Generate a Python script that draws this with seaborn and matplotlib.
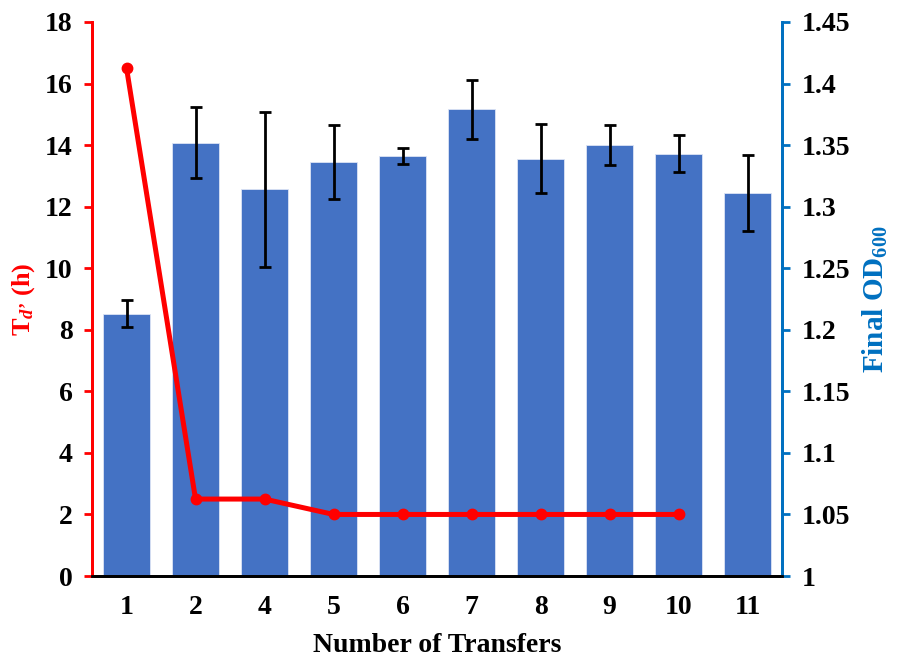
import matplotlib
matplotlib.use("Agg")
import matplotlib.pyplot as plt
import pandas as pd
import seaborn as sns

transfers = ["1", "2", "4", "5", "6", "7", "8", "9", "10", "11"]
final_od = [1.213, 1.352, 1.314, 1.336, 1.341, 1.379, 1.339, 1.350, 1.343, 1.311]
od_err = [0.011, 0.029, 0.063, 0.030, 0.0065, 0.024, 0.028, 0.0165, 0.015, 0.031]
td_transfers = ["1", "2", "4", "5", "6", "7", "8", "9", "10"]
td_hours = [16.5, 2.5, 2.5, 2.0, 2.0, 2.0, 2.0, 2.0, 2.0]

red = "#FF0000"
blue = "#0070C0"
bar_color = "#4472C4"

sns.set_style("white")
plt.rcParams["font.family"] = ["Liberation Serif", "DejaVu Serif"]
plt.rcParams["font.weight"] = "bold"
plt.rcParams["text.color"] = "black"
plt.rcParams["axes.labelcolor"] = "black"
plt.rcParams["xtick.color"] = "black"
plt.rcParams["ytick.color"] = "black"
plt.rcParams["mathtext.fontset"] = "custom"
plt.rcParams["mathtext.rm"] = "Liberation Serif:bold"
plt.rcParams["mathtext.it"] = "Liberation Serif:bold:italic"
plt.rcParams["mathtext.bf"] = "Liberation Serif:bold"

df_od = pd.DataFrame({"transfer": transfers, "od": final_od})
df_td = pd.DataFrame({"transfer": td_transfers, "td": td_hours})

fig, ax = plt.subplots(figsize=(8.97, 6.58), dpi=100)
fig.subplots_adjust(left=0.1026, right=0.8718, bottom=0.1246, top=0.9666)
ax2 = ax.twinx()

# bars (final OD) on the right axis
sns.barplot(data=df_od, x="transfer", y="od", order=transfers, color=bar_color,
            width=0.67, saturation=1, ax=ax2, edgecolor="#dce4f5", linewidth=0.6)
ax2.errorbar(range(len(transfers)), final_od, yerr=od_err, fmt="none",
             ecolor="black", elinewidth=2, capsize=4, capthick=2)
ax2.set_ylim(1, 1.45)
ax2.set_yticks([1, 1.05, 1.1, 1.15, 1.2, 1.25, 1.3, 1.35, 1.4, 1.45])
ax2.set_yticklabels(["1", "1.05", "1.1", "1.15", "1.2", "1.25", "1.3", "1.35", "1.4", "1.45"])
ax2.set_ylabel("Final OD$_{600}$", color=blue, fontsize=21, fontweight="bold", labelpad=8)

# doubling time line on the left axis, drawn above the bars
ax.set_zorder(ax2.get_zorder() + 1)
ax.patch.set_visible(False)
xpos = [transfers.index(t) for t in td_transfers]
ax.plot(xpos, df_td["td"], color=red, lw=3.6, marker="o", markersize=7.5)
ax.set_ylim(0, 18)
ax.set_yticks(range(0, 19, 2))
ax.set_xlim(-0.5, len(transfers) - 0.5)
ax.set_xticks(range(len(transfers)))
ax.set_xticklabels(transfers)
ax.set_ylabel("T$_{d\u2019}$ (h)", color=red, fontsize=19, fontweight="bold", labelpad=6)
ax.set_xlabel("Number of Transfers", fontsize=20, fontweight="bold", labelpad=9)
ax2.set_xlabel("")

for a in (ax, ax2):
    a.spines["top"].set_visible(False)
    a.spines["left"].set_color(red)
    a.spines["left"].set_linewidth(2)
    a.spines["right"].set_color(blue)
    a.spines["right"].set_linewidth(2)
    a.spines["bottom"].set_color("black")
    a.spines["bottom"].set_linewidth(2)

ax.tick_params(axis="y", direction="out", length=6, width=2, color=red,
               labelcolor="black", labelsize=20, pad=8)
ax.tick_params(axis="x", direction="out", length=6, width=2, color="black",
               labelcolor="black", labelsize=20, pad=8)
ax2.tick_params(axis="y", direction="out", length=6, width=2, color=blue,
                labelcolor="black", labelsize=20, pad=8)
ax2.tick_params(axis="x", length=0)
for lbl in ax.get_xticklabels() + ax.get_yticklabels() + ax2.get_yticklabels():
    lbl.set_fontweight("bold")

fig.savefig("out.png", dpi=100)
